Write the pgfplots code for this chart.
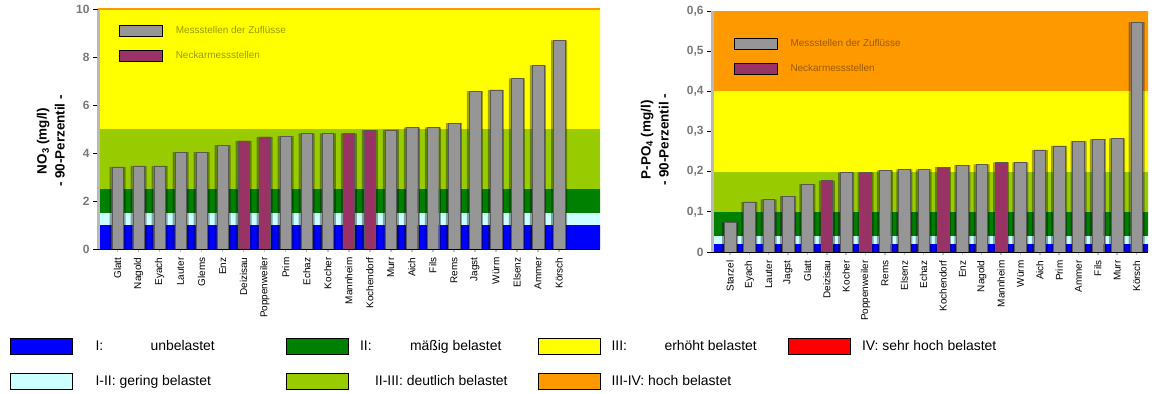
\documentclass[border=0pt]{standalone}
\usepackage{pgfplots}
\pgfplotsset{compat=1.18}
\usepackage{fontspec}
\setmainfont{Liberation Sans}

\definecolor{cBlue}{RGB}{0,0,255}
\definecolor{cCyan}{RGB}{204,255,255}
\definecolor{cGreen}{RGB}{0,128,0}
\definecolor{cLime}{RGB}{153,204,0}
\definecolor{cYellow}{RGB}{255,255,0}
\definecolor{cOrange}{RGB}{255,153,0}
\definecolor{cRed}{RGB}{255,0,0}
\definecolor{barGray}{RGB}{150,150,150}
\definecolor{barPlum}{RGB}{153,51,102}
\definecolor{tickGray}{RGB}{120,120,120}
\definecolor{legOlive}{RGB}{153,153,0}
\definecolor{legBrown}{RGB}{153,92,0}

\pgfplotsset{
  boxlegend/.style 2 args={legend image code/.code={%
    \draw[##1, draw=black, line width=0.5bp] (0bp,-#2) rectangle (#1,#2);}},
  band/.style={draw=none, fill=#1, forget plot},
  shadowbar/.style={ybar, bar width=16bp, bar shift=0bp, fill=black,
    fill opacity=0.36, draw=none, forget plot},
  mainbar/.style={ybar, bar width=11.7bp, bar shift=0bp, fill=#1,
    draw=black!65, line width=0.4bp, boxlegend={43bp}{5.5bp}},
  chartbase/.style={
    scale only axis, axis on top,
    axis x line*=bottom, axis y line*=left,
    x axis line style={black, line width=0.8bp},
    y axis line style={gray!55, line width=3bp},
    tick align=outside,
    major tick length=5bp,
    ytick style={black, line width=0.8bp},
    xtick style={gray!50, line width=1.5bp, /pgfplots/major tick length=3bp},
    xtick={0,...,21},
    yticklabel style={font=\bfseries\fontsize{12}{14}\selectfont, text=tickGray},
    xticklabel style={rotate=90, anchor=east, font=\fontsize{10}{12}\selectfont},
    /pgf/number format/assume math mode=true,
    ylabel style={align=center, anchor=center,
      font=\bfseries\fontsize{13.5}{18}\selectfont},
    legend style={draw=none, fill=none, inner sep=0pt, anchor=north west,
      row sep=13.5bp,
      nodes={inner sep=0pt, anchor=west, font=\fontsize{10}{12}\selectfont},
      /tikz/every odd column/.style={column sep=13bp}},
  },
}

\begin{document}
\begin{tikzpicture}
\useasboundingbox (0bp,0bp) rectangle (1152bp,394bp);

% ---------- NO3 ----------
\begin{axis}[chartbase,
  at={(98bp,145bp)}, anchor=south west,
  width=502bp, height=240bp,
  xmin=-0.93, xmax=22.95, ymin=0, ymax=10,
  ytick={0,2,4,6,8,10},
  extra y ticks={10}, extra y tick labels={},
  extra y tick style={grid=major, major grid style={cOrange, line width=2.5bp}},
  xticklabels={Glatt,Nagold,Eyach,Lauter,Glems,Enz,Deizisau,Poppenweiler,Prim,Echaz,Kocher,Mannheim,Kochendorf,Murr,Aich,Fils,Rems,Jagst,Würm,Elsenz,Ammer,Körsch},
  ylabel={NO\textsubscript{3} (mg/l)\\- 90-Perzentil -},
  ylabel style={at={(axis description cs:-0.094,0.45)}},
  legend style={at={(axis description cs:0.042,0.933)},
    nodes={text=legOlive}},
]
\addplot[band=cBlue]   coordinates {(-2,0) (25,0) (25,1) (-2,1)};
\addplot[band=cCyan]   coordinates {(-2,1) (25,1) (25,1.5) (-2,1.5)};
\addplot[band=cGreen]  coordinates {(-2,1.5) (25,1.5) (25,2.5) (-2,2.5)};
\addplot[band=cLime]   coordinates {(-2,2.5) (25,2.5) (25,5) (-2,5)};
\addplot[band=cYellow] coordinates {(-2,5) (25,5) (25,10) (-2,10)};

\addplot[shadowbar] coordinates {
 (0,3.42) (1,3.46) (2,3.46) (3,4.04) (4,4.04) (5,4.33) (6,4.50) (7,4.67)
 (8,4.70) (9,4.82) (10,4.82) (11,4.82) (12,4.95) (13,4.97) (14,5.07)
 (15,5.07) (16,5.24) (17,6.58) (18,6.63) (19,7.11) (20,7.65) (21,8.69)};
\addplot[mainbar=barGray] coordinates {
 (0,3.42) (1,3.46) (2,3.46) (3,4.04) (4,4.04) (5,4.33)
 (8,4.70) (9,4.82) (10,4.82) (13,4.97) (14,5.07)
 (15,5.07) (16,5.24) (17,6.58) (18,6.63) (19,7.11) (20,7.65) (21,8.69)};
\addlegendentry{Messstellen der Zuflüsse}
\addplot[mainbar=barPlum] coordinates {
 (6,4.50) (7,4.67) (11,4.82) (12,4.95)};
\addlegendentry{Neckarmessstellen}
\end{axis}

% ---------- P-PO4 ----------
\begin{axis}[chartbase,
  at={(712bp,142bp)}, anchor=south west,
  width=436bp, height=241bp,
  xmin=-0.93, xmax=21.59, ymin=0, ymax=0.6,
  ytick={0,0.1,0.2,0.3,0.4,0.5,0.6},
  yticklabels={0,{0,1},{0,2},{0,3},{0,4},{0,5},{0,6}},
  xticklabels={Starzel,Eyach,Lauter,Jagst,Glatt,Deizisau,Kocher,Poppenweiler,Rems,Elsenz,Echaz,Kochendorf,Enz,Nagold,Mannheim,Würm,Aich,Prim,Ammer,Fils,Murr,Körsch},
  ylabel={P-PO\textsubscript{4} (mg/l)\\- 90-Perzentil -},
  ylabel style={at={(axis description cs:-0.131,0.465)}},
  legend style={at={(axis description cs:0.05,0.888)},
    nodes={text=legBrown}},
]
\addplot[band=cBlue]   coordinates {(-2,0) (25,0) (25,0.02) (-2,0.02)};
\addplot[band=cCyan]   coordinates {(-2,0.02) (25,0.02) (25,0.04) (-2,0.04)};
\addplot[band=cGreen]  coordinates {(-2,0.04) (25,0.04) (25,0.1) (-2,0.1)};
\addplot[band=cLime]   coordinates {(-2,0.1) (25,0.1) (25,0.2) (-2,0.2)};
\addplot[band=cYellow] coordinates {(-2,0.2) (25,0.2) (25,0.4) (-2,0.4)};
\addplot[band=cOrange] coordinates {(-2,0.4) (25,0.4) (25,0.6) (-2,0.6)};

\addplot[shadowbar] coordinates {
 (0,0.074) (1,0.125) (2,0.131) (3,0.139) (4,0.169) (5,0.178) (6,0.198)
 (7,0.198) (8,0.203) (9,0.206) (10,0.206) (11,0.211) (12,0.216) (13,0.218)
 (14,0.223) (15,0.223) (16,0.254) (17,0.264) (18,0.276) (19,0.281)
 (20,0.283) (21,0.572)};
\addplot[mainbar=barGray] coordinates {
 (0,0.074) (1,0.125) (2,0.131) (3,0.139) (4,0.169) (6,0.198)
 (8,0.203) (9,0.206) (10,0.206) (12,0.216) (13,0.218)
 (15,0.223) (16,0.254) (17,0.264) (18,0.276) (19,0.281)
 (20,0.283) (21,0.572)};
\addlegendentry{Messstellen der Zuflüsse}
\addplot[mainbar=barPlum] coordinates {
 (5,0.178) (7,0.198) (11,0.211) (14,0.223)};
\addlegendentry{Neckarmessstellen}
\end{axis}

% ---------- quality classes ----------
\begin{axis}[at={(0bp,0bp)}, anchor=south west, scale only axis,
  width=10bp, height=10bp, hide axis,
  xmin=0, xmax=1, ymin=0, ymax=1,
  legend columns=4,
  legend style={at={(axis description cs:1.0,5.62)}, anchor=north west,
    draw=none, fill=none, inner sep=0pt, outer sep=0pt, row sep=18.9bp,
    nodes={inner sep=0pt, anchor=west, font=\fontsize{14}{16}\selectfont},
    /tikz/every odd column/.style={column sep=0bp},
    /tikz/every even column/.style={column sep=0bp}},
]
\addlegendimage{fill=cBlue, boxlegend={62bp}{8bp}}
\addlegendentry{\makebox[213bp][l]{\hspace*{23bp}\makebox[55bp][l]{I:}unbelastet}}
\addlegendimage{fill=cGreen, boxlegend={62bp}{8bp}}
\addlegendentry{\makebox[190bp][l]{\hspace*{12bp}\makebox[50bp][l]{II:}mäßig belastet}}
\addlegendimage{fill=cYellow, boxlegend={62bp}{8bp}}
\addlegendentry{\makebox[187bp][l]{\hspace*{11bp}\makebox[53bp][l]{III:}erhöht belastet}}
\addlegendimage{fill=cRed, boxlegend={62bp}{8bp}}
\addlegendentry{\makebox[200bp][l]{\hspace*{12bp}IV: sehr hoch belastet}}
\addlegendimage{fill=cCyan, boxlegend={62bp}{8bp}}
\addlegendentry{\makebox[213bp][l]{\hspace*{23bp}I-II: gering belastet}}
\addlegendimage{fill=cLime, boxlegend={62bp}{8bp}}
\addlegendentry{\makebox[190bp][l]{\hspace*{27bp}II-III: deutlich belastet}}
\addlegendimage{fill=cOrange, boxlegend={62bp}{8bp}}
\addlegendentry{\makebox[187bp][l]{\hspace*{11bp}III-IV: hoch belastet}}
\end{axis}
\end{tikzpicture}
\end{document}
